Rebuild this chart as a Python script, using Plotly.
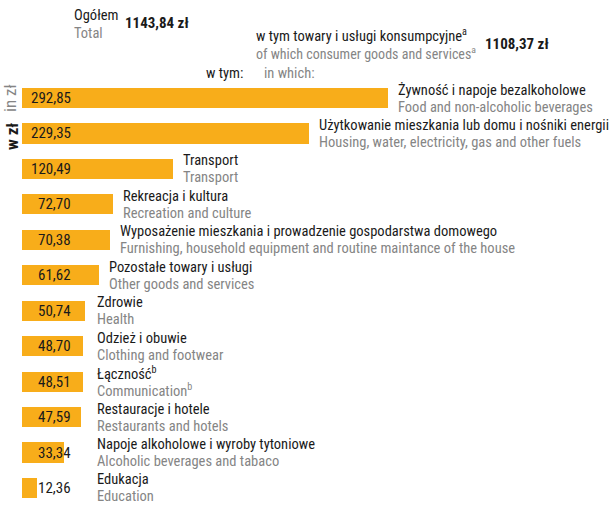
import plotly.graph_objects as go

categories_pl = [
    "Żywność i napoje bezalkoholowe",
    "Użytkowanie mieszkania lub domu i nośniki energii",
    "Transport",
    "Rekreacja i kultura",
    "Wyposażenie mieszkania i prowadzenie gospodarstwa domowego",
    "Pozostałe towary i usługi",
    "Zdrowie",
    "Odzież i obuwie",
    "Łączność<sup>b</sup>",
    "Restauracje i hotele",
    "Napoje alkoholowe i wyroby tytoniowe",
    "Edukacja",
]
categories_en = [
    "Food and non-alcoholic beverages",
    "Housing, water, electricity, gas and other fuels",
    "Transport",
    "Recreation and culture",
    "Furnishing, household equipment and routine maintance of the house",
    "Other goods and services",
    "Health",
    "Clothing and footwear",
    "Communication<sup>b</sup>",
    "Restaurants and hotels",
    "Alcoholic beverages and tabaco",
    "Education",
]
values = [292.85, 229.35, 120.49, 72.70, 70.38, 61.62, 50.74, 48.70, 48.51, 47.59, 33.34, 12.36]
value_labels = ["292,85", "229,35", "120,49", "72,70", "70,38", "61,62", "50,74", "48,70", "48,51", "47,59", "33,34", "12,36"]

W, H = 613, 509
X0 = 22.0          # pixel of zero
PXU = 1.25         # pixels per unit
Y0 = 98.0          # pixel centre of first bar
DY = 35.45         # row spacing in pixels

FONT = "Roboto Condensed, PT Sans Narrow, sans-serif"
BLACK = "#1a1a1a"
GREY = "#858585"
BAR = "#F8AD1A"
FS = 14.5

idx = list(range(len(values)))

fig = go.Figure(go.Bar(
    x=values, y=idx, orientation="h",
    marker=dict(color=BAR, line=dict(width=0)),
    width=0.57, hoverinfo="skip",
))

def px(xp):
    return xp / W

def py(yp):
    return 1 - yp / H

ann = []
for i, v in enumerate(values):
    ann.append(dict(x=(73 - X0) / PXU, y=i, xref="x", yref="y", text=value_labels[i],
                    showarrow=False, xanchor="right", yanchor="middle",
                    font=dict(family=FONT, size=15, color=BLACK)))
    lx = max(v + 8 / PXU, (95 - X0) / PXU)
    ann.append(dict(x=lx, y=i, xref="x", yref="y", text=categories_pl[i],
                    showarrow=False, xanchor="left", yanchor="middle", yshift=8,
                    font=dict(family=FONT, size=FS, color=BLACK)))
    ann.append(dict(x=lx, y=i, xref="x", yref="y", text=categories_en[i],
                    showarrow=False, xanchor="left", yanchor="middle", yshift=-9,
                    font=dict(family=FONT, size=FS, color=GREY)))

def txt(x, y, t, color=BLACK, size=FS, bold=False, angle=0, xanchor="left"):
    ann.append(dict(x=px(x), y=py(y), xref="paper", yref="paper",
                    text=f"<b>{t}</b>" if bold else t, showarrow=False,
                    xanchor=xanchor, yanchor="middle", textangle=angle,
                    font=dict(family=FONT, size=size, color=color)))

txt(72, 16, "Ogółem")
txt(72, 34, "Total", GREY)
txt(123, 23, "1143,84 zł", bold=True, size=15)
txt(254, 35, "w tym towary i usługi konsumpcyjne<sup>a</sup>")
txt(254, 53, "of which consumer goods and services<sup>a</sup>", GREY, size=14)
txt(483, 44, "1108,37 zł", bold=True, size=15)
txt(204, 73, "w tym:")
txt(262, 73, "in which:", GREY)
txt(10, 98, "in zł", GREY, size=17, angle=-90, xanchor="center")
txt(12, 136, "<b>w zł</b>", BLACK, size=17, angle=-90, xanchor="center")

fig.update_layout(
    width=W, height=H,
    margin=dict(l=0, r=0, t=0, b=0),
    paper_bgcolor="white", plot_bgcolor="white",
    showlegend=False,
    xaxis=dict(range=[-X0 / PXU, (W - X0) / PXU], visible=False, fixedrange=True),
    yaxis=dict(range=[(H - Y0) / DY, -Y0 / DY], visible=False, fixedrange=True),
    annotations=ann,
    bargap=0,
)

fig.write_html("out.html", config={"displayModeBar": False},
               post_script="document.body.style.margin='0';document.body.style.overflow='hidden';")
